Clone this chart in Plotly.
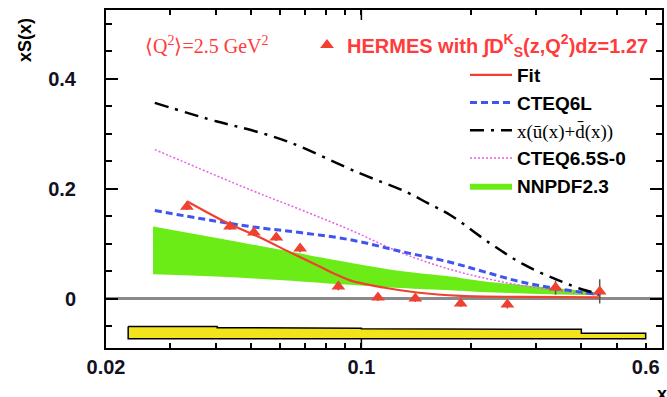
import plotly.graph_objects as go

# HERMES strange-sea extraction, <Q^2> = 2.5 GeV^2
hermes_x = [0.0333, 0.0437, 0.0508, 0.0585, 0.068, 0.0865, 0.111, 0.1405, 0.187, 0.251, 0.340, 0.449]
hermes_y = [0.167, 0.131, 0.120, 0.111, 0.091, 0.022, 0.002, 0.000, -0.009, -0.011, 0.020, 0.013]
hermes_err = [0.006, 0.006, 0.006, 0.006, 0.007, 0.007, 0.006, 0.006, 0.006, 0.007, 0.013, 0.022]

# Fit to the data
fit_x = [0.0333, 0.0437, 0.0528, 0.0638, 0.0771, 0.0838, 0.0931, 0.1148, 0.142, 0.187, 0.272, 0.451]
fit_y = [0.177, 0.135, 0.111, 0.084, 0.058, 0.046, 0.033, 0.020, 0.011, 0.005, 0.003, 0.002]

# CTEQ6L xS(x)
cteq6l_x = [0.0272, 0.0496, 0.068, 0.0931, 0.1278, 0.175, 0.216, 0.267, 0.329, 0.406, 0.451]
cteq6l_y = [0.160, 0.131, 0.120, 0.107, 0.086, 0.066, 0.049, 0.032, 0.020, 0.011, 0.007]

# x(ubar + dbar)
ud_x = [0.0272, 0.0403, 0.0496, 0.0638, 0.0981, 0.1336, 0.1515, 0.175, 0.2255, 0.278, 0.344, 0.405, 0.451]
ud_y = [0.356, 0.322, 0.307, 0.284, 0.229, 0.193, 0.174, 0.152, 0.100, 0.062, 0.034, 0.016, 0.008]

# CTEQ6.5S-0
cteq65_x = [0.0272, 0.0496, 0.068, 0.0931, 0.1278, 0.175, 0.240, 0.329, 0.451]
cteq65_y = [0.271, 0.198, 0.162, 0.125, 0.084, 0.053, 0.031, 0.016, 0.006]

# NNPDF2.3 uncertainty band
nnpdf_x = [0.0269, 0.0496, 0.0931, 0.1278, 0.175, 0.212, 0.329, 0.443]
nnpdf_lo = [0.044, 0.037, 0.025, 0.019, 0.015, 0.012, 0.008, 0.006]
nnpdf_hi = [0.131, 0.099, 0.065, 0.050, 0.040, 0.032, 0.020, 0.011]

# Systematic uncertainty band (bin edges and upper edge per bin)
syst_edges = [0.023, 0.0403, 0.0738, 0.1, 0.125, 0.2, 0.3, 0.4, 0.6]
syst_top = [-0.051, -0.053, -0.054, -0.055, -0.056, -0.056, -0.056, -0.063]
syst_base = -0.073

# x-axis ticks: labelled ones plus unlabelled intermediate ones
x_ticks = [0.02, 0.03, 0.04, 0.05, 0.06, 0.07, 0.08, 0.09, 0.1, 0.2, 0.3, 0.4, 0.5, 0.6]
x_ticktext = ["0.02", "", "", "", "", "", "", "", "0.1", "", "", "", "", "0.6"]
x_long_tick = 0.1
y_ticks = [0, 0.2, 0.4]
y_ticktext = ["0", "0.2", "0.4"]

RED = "#f0402f"
TEXT_RED = "#ff3b3b"
SANS = "Liberation Sans"
SERIF = "Liberation Serif"

L, T, PLOT_W, PLOT_H = 106, 10, 556, 338


def px(xp):
    return (xp - L) / PLOT_W


def py(yp):
    return 1 - (yp - T) / PLOT_H


fig = go.Figure()

# stepped outline of the systematic band
band_x, band_y = [], []
for i, top in enumerate(syst_top):
    band_x += [syst_edges[i], syst_edges[i + 1]]
    band_y += [top, top]
band_x += [syst_edges[-1], syst_edges[0], syst_edges[0]]
band_y += [syst_base, syst_base, syst_top[0]]
fig.add_trace(go.Scatter(
    x=band_x, y=band_y, mode="lines", fill="toself", fillcolor="#f2e31b",
    line=dict(color="black", width=1.5), showlegend=False, hoverinfo="skip",
))

# NNPDF band
fig.add_trace(go.Scatter(
    x=nnpdf_x, y=nnpdf_lo, mode="lines", line=dict(width=0, color="#6cec16", shape="spline"),
    showlegend=False, legend="legend2", legendgroup="nnpdf",
))
fig.add_trace(go.Scatter(
    x=nnpdf_x, y=nnpdf_hi, mode="lines", fill="tonexty", fillcolor="#6cec16",
    line=dict(width=0, color="#6cec16", shape="spline"), name="NNPDF2.3",
    legend="legend2", legendgroup="nnpdf", legendrank=5,
))

fig.add_trace(go.Scatter(
    x=cteq65_x, y=cteq65_y, mode="lines",
    line=dict(color="#e860e8", width=1.5, dash="2px,2px", shape="spline"),
    name="CTEQ6.5S-0", legend="legend2", legendgroup="cteq65", legendrank=4,
))
fig.add_trace(go.Scatter(
    x=cteq6l_x, y=cteq6l_y, mode="lines",
    line=dict(color="#3f55ee", width=3, dash="7px,4px", shape="spline"),
    name="CTEQ6L", legend="legend2", legendgroup="cteq6l", legendrank=2,
))
fig.add_trace(go.Scatter(
    x=ud_x, y=ud_y, mode="lines",
    line=dict(color="black", width=2.5, dash="14px,7px,3px,7px", shape="spline"),
    name="<span style='font-family:Liberation Serif;font-weight:normal'>x(\u016b(x)+d\u0304(x))</span>",
    legend="legend2", legendgroup="ud", legendrank=3,
))
fig.add_trace(go.Scatter(
    x=fit_x, y=fit_y, mode="lines", line=dict(color=RED, width=2.2, shape="spline"),
    name="Fit", legend="legend2", legendgroup="fit", legendrank=1,
))

fig.add_trace(go.Scatter(
    x=hermes_x, y=hermes_y, mode="markers",
    marker=dict(symbol="triangle-up", size=12, color=RED),
    error_y=dict(type="data", array=hermes_err, color="#555555", thickness=1.5, width=0),
    name="HERMES with \u222bD<sup>K</sup><sub>S</sub>(z,Q<sup>2</sup>)dz=1.27",
    legend="legend",
))

axis_common = dict(
    showline=True, linecolor="black", linewidth=2, mirror="allticks",
    ticks="inside", tickcolor="black", tickwidth=1.5, showgrid=False,
)

# longer tick marks at x = 0.1 on the bottom and top frame
long_len = 10 / PLOT_H
tick_shapes = [
    dict(type="line", xref="x", yref="paper", x0=x_long_tick, x1=x_long_tick, y0=0, y1=long_len,
         line=dict(color="black", width=1.5)),
    dict(type="line", xref="x", yref="paper", x0=x_long_tick, x1=x_long_tick, y0=1 - long_len, y1=1,
         line=dict(color="black", width=1.5)),
]

fig.update_layout(
    width=667, height=397,
    margin=dict(l=L, r=5, t=T, b=49, autoexpand=False),
    paper_bgcolor="white", plot_bgcolor="white",
    font=dict(family=SANS, size=18, color="black"),
    xaxis=dict(
        type="log", range=[-1.69897, -0.1772], tickmode="array",
        tickvals=x_ticks, ticktext=x_ticktext, ticklen=5,
        tickfont=dict(family=SANS, size=20, color="#111122", weight="bold"),
        zeroline=False, **axis_common,
    ),
    yaxis=dict(
        range=[-0.09, 0.525], tickmode="array", tickvals=y_ticks, ticktext=y_ticktext, ticklen=12,
        ticklabelstandoff=24,
        minor=dict(tickmode="linear", tick0=0, dtick=0.05, ticklen=6, ticks="inside",
                   tickcolor="black", tickwidth=1.5),
        tickfont=dict(family=SANS, size=20, color="#111122", weight="bold"),
        zeroline=True, zerolinecolor="#8a8a8a", zerolinewidth=2.5, **axis_common,
    ),
    shapes=tick_shapes,
    legend=dict(
        x=px(307), y=py(45), xanchor="left", yanchor="middle", bgcolor="rgba(0,0,0,0)",
        font=dict(family=SANS, size=20, color=TEXT_RED, weight="bold"),
    ),
    legend2=dict(
        x=px(465), y=py(56), xanchor="left", yanchor="top", bgcolor="rgba(0,0,0,0)",
        font=dict(family=SANS, size=19, color="black", weight="bold"),
        traceorder="grouped", tracegroupgap=0, itemwidth=42,
    ),
    annotations=[
        dict(text="<b>xS(x)</b>", xref="paper", yref="paper", x=px(25), y=py(40),
             xanchor="center", yanchor="middle",
             textangle=-90, showarrow=False, font=dict(family=SANS, size=18)),
        dict(text="\u27e8Q<sup>2</sup>\u27e9=2.5 GeV<sup>2</sup>", xref="paper", yref="paper",
             x=px(207), y=py(45), xanchor="center", yanchor="middle", showarrow=False,
             font=dict(family=SERIF, size=20, color=TEXT_RED)),
        dict(text="<b>x</b>", xref="paper", yref="paper", x=1.0, y=py(382),
             yanchor="top", xanchor="center", showarrow=False,
             font=dict(family=SANS, size=18)),
    ],
)

fig.write_html("out.html")
